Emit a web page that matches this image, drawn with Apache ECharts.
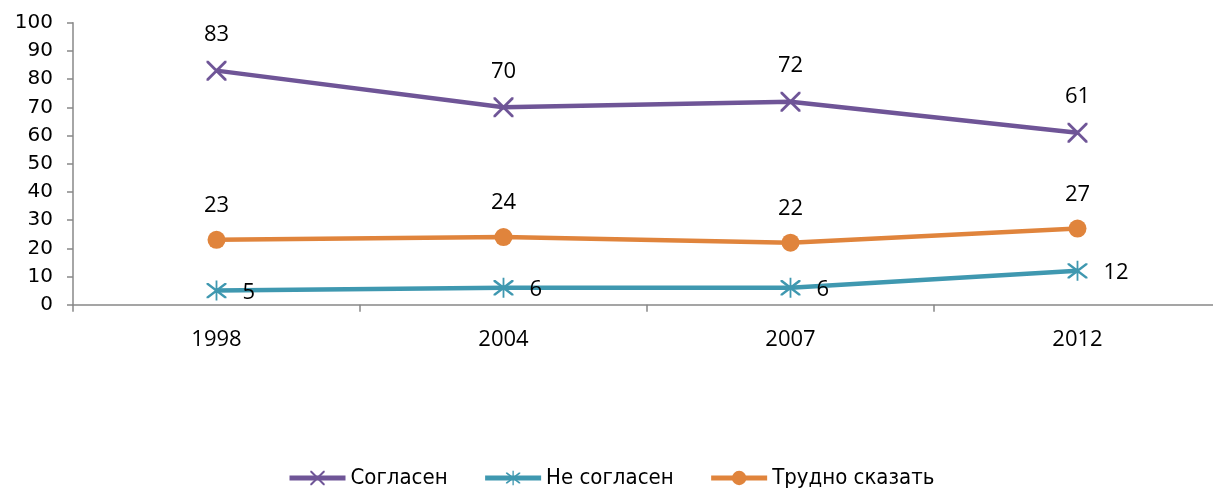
<!DOCTYPE html>
<html><head><meta charset="utf-8">
<script src="https://cdn.jsdelivr.net/npm/echarts@6/dist/echarts.min.js"></script>
<style>html,body{margin:0;padding:0;background:#fff;overflow:hidden;width:1213px;height:494px}#c{width:1230px;height:494px}</style>
</head><body><div id="c"></div>
<script>
const categories = ['1998', '2004', '2007', '2012'];
const agree = [83, 70, 72, 61];
const disagree = [5, 6, 6, 12];
const hardToSay = [23, 24, 22, 27];
const seriesNames = ['Согласен', 'Не согласен', 'Трудно сказать'];
const yTicks = [0, 10, 20, 30, 40, 50, 60, 70, 80, 90, 100];

const X_PATH = 'path://M0,0 L1,0 L10,9 L10,10 L9,10 L0,1 Z M10,0 L10,1 L1,10 L0,10 L0,9 L9,0 Z';
const STAR_PATH = 'path://M0,0 L1,0 L10,9 L10,10 L9,10 L0,1 Z M10,0 L10,1 L1,10 L0,10 L0,9 L9,0 Z M4.55,-1.5 L5.45,-1.5 L5.45,11.5 L4.55,11.5 Z';

const chart = echarts.init(document.getElementById('c'));
const labelFont = {fontFamily: 'Open Sans, DejaVu Sans, sans-serif', fontSize: 22, color: '#000'};
const yFont = {fontFamily: 'DejaVu Sans, sans-serif', fontSize: 20, color: '#000'};
chart.setOption({
  animation: false,
  grid: {left: 73, top: 22.7, width: 1148, height: 282, containLabel: false},
  legend: {
    top: 462, left: 282,
    itemWidth: 56, itemHeight: 18, itemGap: 35,
    lineStyle: {width: 5},
    textStyle: {fontFamily: 'DejaVu Sans Condensed, DejaVu Sans, sans-serif', fontSize: 22, color: '#000'},
    data: seriesNames
  },
  xAxis: {
    type: 'category', data: categories, boundaryGap: true,
    axisLine: {lineStyle: {color: '#888', width: 1.5}},
    axisTick: {show: true, length: 7, lineStyle: {color: '#888', width: 1.5}},
    axisLabel: Object.assign({margin: 24}, labelFont),
    splitLine: {show: false}
  },
  yAxis: {
    type: 'value', min: yTicks[0], max: yTicks[yTicks.length - 1], interval: 10,
    axisLine: {show: true, lineStyle: {color: '#888', width: 1.5}},
    axisTick: {show: true, length: 6, lineStyle: {color: '#888', width: 1.5}},
    axisLabel: Object.assign({margin: 20}, yFont),
    splitLine: {show: false}
  },
  series: [
    {
      name: seriesNames[0], type: 'line', data: agree,
      symbol: X_PATH, symbolSize: 20,
      lineStyle: {color: '#6f5597', width: 4.5},
      itemStyle: {color: '#6f5597'},
      label: Object.assign({show: true, position: 'top', distance: 15}, labelFont)
    },
    {
      name: seriesNames[1], type: 'line', data: disagree,
      symbol: STAR_PATH, symbolSize: 20,
      lineStyle: {color: '#3f98b0', width: 4.5},
      itemStyle: {color: '#3f98b0'},
      label: Object.assign({show: true, position: 'right', distance: 16, offset: [0, 2]}, labelFont)
    },
    {
      name: seriesNames[2], type: 'line', data: hardToSay,
      symbol: 'circle', symbolSize: 18,
      lineStyle: {color: '#e0843c', width: 4.5},
      itemStyle: {color: '#e0843c'},
      label: Object.assign({show: true, position: 'top', distance: 14}, labelFont)
    }
  ]
});
</script></body></html>
